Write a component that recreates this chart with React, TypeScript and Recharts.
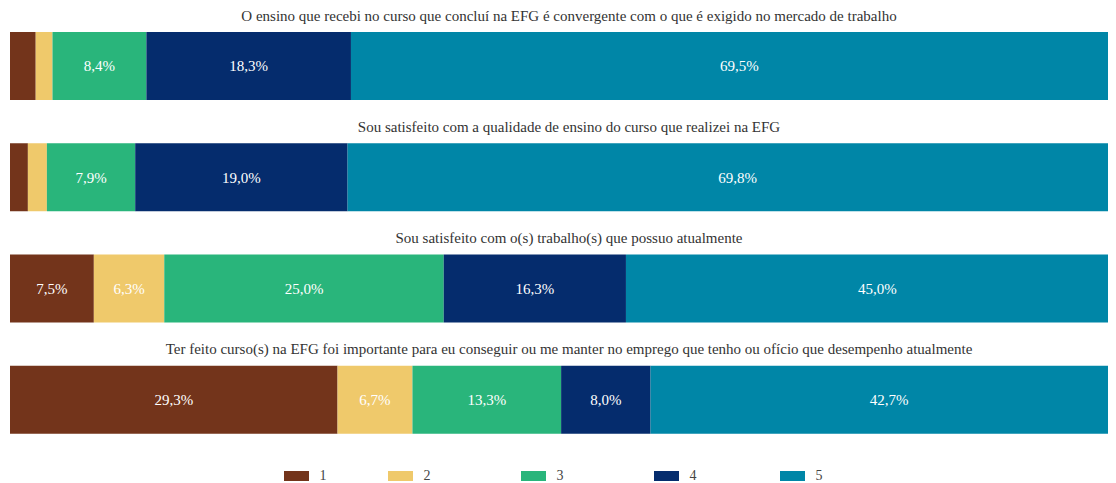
import React from "react";
import { BarChart, Bar, XAxis, YAxis, Legend, LabelList } from "recharts";

const statements = [
  "O ensino que recebi no curso que concluí na EFG é convergente com o que é exigido no mercado de trabalho",
  "Sou satisfeito com a qualidade de ensino do curso que realizei na EFG",
  "Sou satisfeito com o(s) trabalho(s) que possuo atualmente",
  "Ter feito curso(s) na EFG foi importante para eu conseguir ou me manter no emprego que tenho ou ofício que desempenho atualmente",
];

const level1 = [2.3, 1.6, 7.5, 29.3];
const level2 = [1.5, 1.7, 6.3, 6.7];
const level3 = [8.4, 7.9, 25.0, 13.3];
const level4 = [18.3, 19.0, 16.3, 8.0];
const level5 = [69.5, 69.8, 45.0, 42.7];

const levelNames = ["1", "2", "3", "4", "5"];
const levelColors = ["#73341b", "#efc96b", "#29b57b", "#052c6d", "#0086a7"];
// gap after each legend item
const legendGaps = [61, 90, 90, 83, 0];

const data = statements.map((s, i) => ({
  name: s,
  "1": level1[i],
  "2": level2[i],
  "3": level3[i],
  "4": level4[i],
  "5": level5[i],
}));

const FONT = "'Liberation Serif', 'DejaVu Serif', serif";

function TitleTick(props: any) {
  const { y, payload } = props;
  return (
    <text
      x={561}
      y={y - 45}
      textAnchor="middle"
      fontFamily={FONT}
      fontSize={15}
      fill="#333"
    >
      {payload.value}
    </text>
  );
}

function fmt(v: any) {
  const n = Number(v);
  if (n < 5) return "";
  return n.toFixed(1).replace(".", ",") + "%";
}

function LegendBox() {
  return (
    <div
      style={{
        display: "flex",
        justifyContent: "center",
        fontFamily: FONT,
        fontSize: 14,
        lineHeight: "12px",
        color: "#444",
        paddingTop: 15,
        paddingRight: 32,
      }}
    >
      {levelNames.map((n, i) => (
        <div
          key={n}
          style={{
            display: "flex",
            alignItems: "center",
            marginRight: legendGaps[i],
          }}
        >
          <span
            style={{
              display: "inline-block",
              width: 25,
              height: 10,
              background: levelColors[i],
              marginRight: 11,
            }}
          />
          <span>{n}</span>
        </div>
      ))}
    </div>
  );
}

export default function App() {
  return (
    <div style={{ width: 1108, height: 475, overflow: "hidden" }}>
      <BarChart
        width={1121}
        height={475}
        data={data}
        layout="vertical"
        barSize={68}
        barCategoryGap={0}
        margin={{ top: 2, right: 0, left: 1, bottom: 0 }}
      >
        <XAxis type="number" domain={[0, 100]} hide />
        <YAxis
          type="category"
          dataKey="name"
          width={1}
          axisLine={false}
          tickLine={false}
          tick={TitleTick}
          interval={0}
        />
        <Legend
          verticalAlign="bottom"
          height={28}
          content={<LegendBox />}
        />
        {levelNames.map((n, i) => (
          <Bar
            key={n}
            dataKey={n}
            stackId="a"
            fill={levelColors[i]}
            isAnimationActive={false}
          >
            <LabelList
              dataKey={n}
              position="center"
              formatter={fmt}
              fill="#ffffff"
              fontFamily={FONT}
              fontSize={15}
            />
          </Bar>
        ))}
      </BarChart>
    </div>
  );
}
